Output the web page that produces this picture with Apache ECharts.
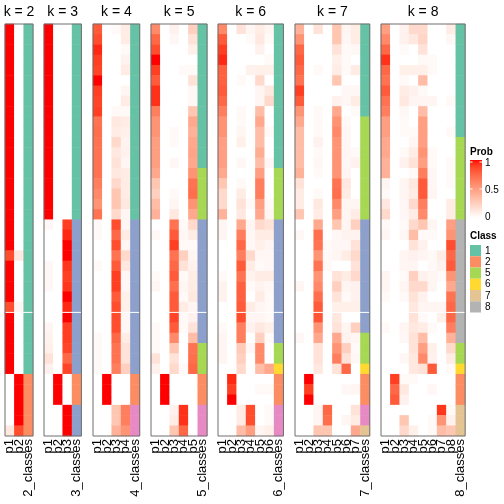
<!DOCTYPE html>
<html><head><meta charset="utf-8">
<script src="https://cdn.jsdelivr.net/npm/echarts@6/dist/echarts.min.js"></script>
<style>html,body{margin:0;padding:0;background:#fff}#c{width:504px;height:504px}</style>
</head><body><div id="c"></div>
<script>
// ---------------- data ----------------
const ks = [2, 3, 4, 5, 6, 7, 8];
const sepRow = 28;               // row slice separator (white line) before this row
const rowCats = ['r01','r02','r03','r04','r05','r06','r07','r08','r09','r10','r11','r12','r13','r14','r15','r16','r17','r18','r19','r20','r21','r22','r23','r24','r25','r26','r27','r28','r29','r30','r31','r32','r33','r34','r35','r36','r37','r38','r39','r40'];

const class_k2 = [1,1,1,1,1,1,1,1,1,1, 1,1,1,1,1,1,1,1,1,1, 1,1,1,1,1,1,1,1,1,1, 1,1,1,1,2,2,2,2,2,2];
const class_k3 = [1,1,1,1,1,1,1,1,1,1, 1,1,1,1,1,1,1,1,1,3, 3,3,3,3,3,3,3,3,3,3, 3,3,3,3,2,2,2,3,3,3];
const class_k4 = [1,1,1,1,1,1,1,1,1,1, 1,1,1,1,1,1,1,1,1,3, 3,3,3,3,3,3,3,3,3,3, 3,3,3,3,2,2,2,4,4,4];
const class_k5 = [1,1,1,1,1,1,1,1,1,1, 1,1,1,1,5,5,5,5,5,3, 3,3,3,3,3,3,3,3,3,3, 3,5,5,5,2,2,2,4,4,4];
const class_k6 = [1,1,1,1,1,1,1,1,1,1, 1,1,1,1,5,5,5,5,5,3, 3,3,3,3,3,3,3,3,3,3, 3,5,5,6,2,2,2,4,4,4];
const class_k7 = [1,1,1,1,1,1,1,1,1,5, 5,5,5,5,5,5,5,5,5,3, 3,3,3,3,3,3,3,3,3,3, 5,5,5,6,2,2,2,4,4,7];
const class_k8 = [1,1,1,1,1,1,1,1,1,1, 1,5,5,5,5,5,5,5,5,8, 8,8,8,8,8,8,8,8,8,8, 8,5,5,6,2,2,2,7,7,7];

const prob_k2 = [
  [1,1,1,1,1,1,1,1,1,1, 1,1,1,1,1,1,1,1,1,1, 1,1,0.85,1,1,1,1,0.85,1,1, 1,1,1,1,0,0,0,0,0,0.12],
  [0,0,0,0,0,0,0,0,0,0, 0,0,0,0,0,0,0,0,0,0, 0,0,0.12,0,0,0,0,0.05,0,0, 0,0,0,0,1,1,1,1,1,0.85]
];
const prob_k3 = [
  [1,1,1,1,1,1,1,1,1,1, 1,1,1,1,1,1,1,1,1,0.04, 0,0,0,0.04,0.04,0.04,0,0,0,0.05, 0.06,0.08,0.15,0.07,0,0,0,0,0,0],
  [0,0,0,0,0,0,0,0,0,0, 0,0,0,0,0,0,0,0,0,0, 0,0,0,0,0,0,0,0,0,0, 0,0,0,0,1,1,1,0,0,0],
  [0,0,0,0,0,0,0,0,0,0, 0,0,0,0,0,0,0,0,0,0.9, 0.95,1,1,0.92,0.9,0.92,1,0.95,1,0.9, 0.9,0.88,0.75,0.88,0,0,0,1,1,1]
];
const prob_k4 = [
  [0.8,0.85,0.95,0.9,0.88,1,0.9,0.88,0.9,0.7, 0.72,0.7,0.7,0.7,0.7,0.65,0.6,0.55,0.7,0.03, 0.03,0,0,0.03,0,0,0,0,0,0, 0.03,0.03,0.03,0.03,0,0,0,0,0,0],
  [0,0,0,0,0,0,0,0,0,0, 0,0,0,0,0,0,0,0,0,0, 0,0,0,0,0,0,0,0,0,0, 0,0,0,0,1,1,1,0,0,0],
  [0.03,0,0,0,0,0,0,0,0.03,0.12, 0.1,0.2,0.12,0.15,0.12,0.2,0.3,0.3,0.2,0.85, 0.75,0.85,0.7,0.8,0.9,0.9,0.8,0.85,0.85,0.85, 0.75,0.7,0.7,0.65,0,0,0,0.3,0.3,0.4],
  [0.1,0.1,0.03,0.06,0.1,0,0.05,0.1,0.03,0.1, 0.08,0.06,0.07,0.05,0.1,0.1,0.1,0.12,0.05,0.05, 0.1,0.05,0.2,0.12,0.04,0.04,0.08,0.08,0.04,0.04, 0.1,0.15,0.15,0.25,0,0,0,0.65,0.65,0.55]
];
const prob_k5 = [
  [0.6,0.75,0.85,1,0.9,0.8,0.93,0.93,0.65,0.55, 0.55,0.5,0.5,0.5,0.45,0.3,0.25,0.35,0.4,0, 0.04,0,0,0,0.03,0.05,0,0,0,0.03, 0.03,0.03,0.15,0.07,0,0,0,0,0,0],
  [0,0,0,0,0,0,0,0,0,0, 0,0,0,0,0,0,0,0,0,0, 0,0,0,0,0,0,0,0,0,0, 0,0,0,0,1,1,1,0,0,0],
  [0.07,0.04,0,0,0,0,0,0,0,0, 0.03,0.03,0,0.04,0,0,0.03,0.05,0.12,0.7, 0.8,0.9,0.7,0.75,0.8,0.72,0.8,0.8,0.88,0.8, 0.6,0.3,0.15,0.2,0,0,0,0.07,0.1,0.3],
  [0,0,0,0,0.03,0,0,0,0,0, 0,0,0,0,0,0,0,0,0,0.03, 0.04,0.03,0.25,0.15,0.03,0.05,0.03,0.1,0.03,0.03, 0,0,0,0.03,0,0,0,0.93,0.93,0.75],
  [0.25,0.15,0.08,0,0.03,0.15,0.04,0.04,0.3,0.45, 0.4,0.45,0.47,0.45,0.55,0.7,0.72,0.55,0.45,0.2, 0.1,0.03,0.05,0.07,0.1,0.1,0.12,0.05,0.07,0.15, 0.35,0.7,0.72,0.75,0,0,0,0,0,0]
];
const prob_k6 = [
  [0.6,0.8,0.9,0.95,0.78,0.78,0.8,0.75,0.65,0.55, 0.55,0.5,0.5,0.5,0.45,0.3,0.2,0.2,0.4,0.05, 0.05,0,0,0,0.03,0.06,0.06,0,0,0.03, 0.05,0.05,0.05,0,0,0,0,0,0,0],
  [0,0,0,0,0,0,0,0,0,0, 0,0,0,0,0,0,0,0,0,0, 0,0,0,0,0,0,0,0,0,0, 0,0,0,0,0.95,0.9,1,0,0,0],
  [0.15,0,0,0,0,0.03,0,0,0.03,0.03, 0.05,0.08,0,0.04,0,0.03,0.1,0.15,0.12,0.45, 0.65,0.75,0.65,0.8,0.7,0.78,0.78,0.8,0.85,0.65, 0.65,0.28,0.25,0.2,0,0,0,0.1,0.1,0.35],
  [0.05,0.03,0,0,0.07,0,0,0,0,0, 0,0,0,0,0,0,0,0.03,0,0.05, 0.04,0.04,0.2,0.1,0.06,0.03,0,0.1,0.05,0.07, 0,0.04,0,0,0,0,0,0.85,0.85,0.5],
  [0.1,0.12,0.07,0,0.08,0.2,0.05,0.05,0.35,0.45, 0.35,0.35,0.42,0.35,0.5,0.65,0.65,0.5,0.45,0.2, 0.1,0.08,0.04,0.03,0.1,0.06,0.1,0.05,0.05,0.12, 0.25,0.6,0.6,0.35,0,0.03,0,0,0,0.05],
  [0.05,0.03,0,0.03,0.08,0,0.12,0.2,0,0, 0.03,0,0,0.04,0,0,0,0.03,0.05,0.15, 0.1,0.05,0.04,0.04,0.1,0.04,0.03,0.03,0.03,0.08, 0.03,0,0,0.45,0,0.03,0,0.03,0.03,0.08]
];
const prob_k7 = [
  [0.4,0.55,0.75,0.8,0.75,0.7,0.9,0.8,0.55,0.45, 0.35,0.35,0.35,0.35,0.4,0.15,0.1,0.1,0.3,0, 0.04,0,0,0,0,0.05,0,0,0,0, 0.04,0,0,0,0,0,0,0,0,0],
  [0,0,0,0,0,0,0,0,0,0, 0,0,0,0,0,0,0,0,0,0, 0,0,0,0,0,0,0,0,0,0, 0,0,0,0,1,0.9,1,0,0,0],
  [0.15,0,0,0,0.03,0,0,0,0.03,0.03, 0.03,0.07,0.03,0.04,0.03,0,0.03,0.12,0.1,0.45, 0.72,0.7,0.55,0.7,0.55,0.6,0.72,0.8,0.82,0.55, 0.45,0.15,0.15,0.12,0,0,0,0.05,0.05,0.3],
  [0,0,0,0,0,0,0,0,0,0, 0,0,0,0,0,0,0,0,0,0, 0,0.03,0.03,0.03,0,0,0,0,0,0, 0,0,0,0,0,0,0,0.75,0.72,0.3],
  [0.3,0.3,0.15,0.08,0.1,0.3,0,0.07,0.45,0.55, 0.6,0.55,0.55,0.55,0.55,0.7,0.72,0.6,0.5,0.3, 0.04,0.04,0.05,0,0.15,0.25,0.15,0.08,0.12,0.15, 0.45,0.55,0.65,0.15,0,0,0,0,0,0],
  [0.05,0.04,0.03,0.03,0.03,0,0.04,0.04,0,0.03, 0.04,0.04,0.05,0.04,0.05,0.12,0.1,0.05,0.05,0.05, 0.06,0.04,0.1,0,0.1,0.05,0.03,0.08,0,0.05, 0.06,0.25,0.15,0.75,0,0.04,0,0,0.05,0],
  [0.1,0.1,0.04,0,0.1,0,0.04,0.1,0.03,0, 0,0,0.03,0.07,0,0,0,0.05,0.1,0.25, 0.06,0.15,0.2,0.15,0.2,0.07,0.07,0.08,0,0.25, 0.05,0.03,0.04,0,0,0.05,0,0.15,0.1,0.45]
];
const prob_k8 = [
  [0.5,0.6,0.75,0.93,0.75,0.7,0.8,0.7,0.65,0.5, 0.5,0.45,0.45,0.4,0.4,0.05,0.03,0.12,0.2,0.03, 0.05,0,0,0,0.05,0.05,0.03,0,0,0.03, 0,0,0,0,0,0,0,0,0,0],
  [0,0,0,0,0,0,0,0,0,0, 0,0,0,0,0,0,0,0,0,0, 0,0,0,0,0,0,0,0,0,0, 0,0,0,0,0.9,0.75,0.8,0,0,0],
  [0.07,0.07,0.03,0,0.08,0.03,0.1,0.12,0.04,0.03, 0.03,0,0.03,0.07,0,0.05,0.05,0.04,0.04,0.03, 0.04,0,0.05,0.05,0.03,0.05,0.03,0,0,0.05, 0.04,0,0.04,0,0.03,0.12,0.07,0,0.3,0.2],
  [0.2,0.12,0,0,0.08,0,0.07,0.05,0,0, 0.03,0.05,0.1,0.15,0.03,0.12,0.1,0.2,0.1,0.2, 0.35,0.15,0.07,0.05,0.25,0.2,0.15,0.12,0.15,0.12, 0.15,0.15,0.12,0.12,0.03,0,0,0,0,0.08],
  [0.2,0.22,0.15,0.03,0.08,0.35,0.03,0.05,0.35,0.5, 0.5,0.5,0.55,0.5,0.65,0.8,0.8,0.65,0.6,0.3, 0.03,0.07,0.05,0,0.07,0.2,0.07,0.05,0.03,0.1, 0.35,0.5,0.6,0.15,0,0,0,0,0,0],
  [0,0,0,0.03,0.03,0,0,0.05,0,0, 0,0,0.03,0.03,0.04,0.04,0.05,0,0,0.05, 0.03,0,0.03,0.03,0.05,0.05,0,0.05,0,0.03, 0,0.08,0.07,0.8,0,0.04,0,0,0.03,0.03],
  [0,0,0,0,0,0,0,0,0,0, 0,0,0,0,0,0,0,0,0,0, 0,0,0.1,0.07,0.03,0,0,0.05,0.08,0, 0,0,0,0,0,0,0,0.92,0.55,0.35],
  [0.1,0.04,0,0,0,0,0,0.03,0,0, 0.03,0,0,0.03,0.03,0.03,0,0.1,0.1,0.5, 0.55,0.85,0.75,0.8,0.55,0.45,0.7,0.75,0.75,0.65, 0.4,0.2,0.1,0.03,0,0,0,0.03,0.07,0.3]
];

const probLegendTicks = ['0', '0.5', '1'];
const classLegend = ['1', '2', '5', '6', '7', '8'];

// ---------------- styles / layout ----------------
const classColors = {1:'#66C2A5', 2:'#FC8D62', 3:'#8DA0CB', 4:'#E78AC3', 5:'#A6D854', 6:'#FFD92F', 7:'#E5C494', 8:'#B3B3B3'};
const FONT = 'Liberation Sans, Arial, Helvetica, sans-serif';
const gridLeft = [5, 44, 93, 151, 218, 295, 381];
const colW = 9.35, gridTop = 24, gridH = 412;

const probs = [prob_k2, prob_k3, prob_k4, prob_k5, prob_k6, prob_k7, prob_k8];
const classes = [class_k2, class_k3, class_k4, class_k5, class_k6, class_k7, class_k8];

// LAB interpolation white -> red (like colorRamp2)
function lin(c){c/=255;return c<=0.04045?c/12.92:Math.pow((c+0.055)/1.055,2.4);}
function gam(c){c=c<=0.0031308?12.92*c:1.055*Math.pow(c,1/2.4)-0.055;return Math.round(Math.max(0,Math.min(1,c))*255);}
function toLab(rgb){const [r,g,b]=rgb.map(lin);const X=(0.4124*r+0.3576*g+0.1805*b)/0.95047,Y=0.2126*r+0.7152*g+0.0722*b,Z=(0.0193*r+0.1192*g+0.9505*b)/1.08883;const f=t=>t>0.008856?Math.cbrt(t):7.787*t+16/116;const fx=f(X),fy=f(Y),fz=f(Z);return [116*fy-16,500*(fx-fy),200*(fy-fz)];}
function fromLab(L,a,bb){const fy=(L+16)/116,fx=fy+a/500,fz=fy-bb/200;const fi=t=>t*t*t>0.008856?t*t*t:(t-16/116)/7.787;const X=fi(fx)*0.95047,Y=fi(fy),Z=fi(fz)*1.08883;const r=3.2406*X-1.5372*Y-0.4986*Z,g=-0.9689*X+1.8758*Y+0.0415*Z,b=0.0557*X-0.2040*Y+1.0570*Z;return 'rgb('+gam(r)+','+gam(g)+','+gam(b)+')';}
const labW = toLab([255,255,255]), labR = toLab([255,0,0]);
const stops = [];
for (let i = 0; i <= 20; i++) { const t = i/20; stops.push(fromLab(labW[0]+(labR[0]-labW[0])*t, labW[1]+(labR[1]-labW[1])*t, labW[2]+(labR[2]-labW[2])*t)); }

const grids = [], xAxes = [], yAxes = [], series = [], probSeriesIdx = [];
ks.forEach((k, i) => {
  const xCats = [];
  for (let c = 1; c <= k; c++) xCats.push('p' + c);
  xCats.push(k + '_classes');
  grids.push({left: gridLeft[i], top: gridTop, width: (k+1)*colW, height: gridH, show: true,
    borderColor: '#6e6e6e', borderWidth: 1, backgroundColor: 'transparent', z: 10});
  xAxes.push({type: 'category', gridIndex: i, data: xCats, position: 'bottom',
    axisLine: {show: false}, axisTick: {show: false}, splitLine: {show: false},
    axisLabel: {rotate: 90, interval: 0, fontSize: 13, color: '#000', margin: 3, fontFamily: FONT}});
  yAxes.push({type: 'category', gridIndex: i, data: rowCats, inverse: true, show: false});
  const pd = [];
  probs[i].forEach((col, c) => col.forEach((v, r) => pd.push([c, r, v])));
  probSeriesIdx.push(series.length);
  series.push({type: 'heatmap', xAxisIndex: i, yAxisIndex: i, data: pd, emphasis: {disabled: true}, progressive: 0, silent: true});
  const cd = classes[i].map((cl, r) => ({value: [k, r, cl], itemStyle: {color: classColors[cl]}}));
  series.push({type: 'heatmap', xAxisIndex: i, yAxisIndex: i, data: cd, emphasis: {disabled: true}, progressive: 0, silent: true});
});

const chart = echarts.init(document.getElementById('c'), null, {renderer: 'canvas'});
chart.setOption({
  animation: false,
  backgroundColor: '#fff',
  grid: grids, xAxis: xAxes, yAxis: yAxes, series: series,
  visualMap: {type: 'continuous', show: false, min: 0, max: 1, dimension: 2, seriesIndex: probSeriesIdx, inRange: {color: stops}}
});

// decorations positioned from the grids
const els = [];
ks.forEach((k, i) => {
  const xCats = xAxes[i].data;
  const a = chart.convertToPixel({gridIndex: i}, [xCats[0], rowCats[sepRow-1]]);
  const b = chart.convertToPixel({gridIndex: i}, [xCats[1], rowCats[sepRow]]);
  const e = chart.convertToPixel({gridIndex: i}, [xCats[k], rowCats[0]]);
  const cw = b[0] - a[0];
  const yb = (a[1] + b[1]) / 2;
  els.push({type: 'line', z: 5, shape: {x1: a[0]-cw/2, y1: yb, x2: e[0]+cw/2, y2: yb}, style: {stroke: '#fff', lineWidth: 1}});
  els.push({type: 'text', x: (a[0]-cw/2 + e[0]+cw/2)/2, y: 12, style: {text: 'k = ' + k, fontSize: 14, fontFamily: FONT, fill: '#000', align: 'center', verticalAlign: 'middle'}});
});
// Prob legend
const lgX = 470, barTop = 160, barH = 58, barW = 12;
els.push({type: 'text', x: lgX, y: 152, style: {text: 'Prob', fontSize: 10, fontWeight: 'bold', fontFamily: FONT, fill: '#000', verticalAlign: 'middle'}});
els.push({type: 'rect', shape: {x: lgX, y: barTop, width: barW, height: barH}, style: {fill: new echarts.graphic.LinearGradient(0, 1, 0, 0, stops.map((c, j) => ({offset: j/20, color: c})))}});
probLegendTicks.forEach((t, j) => {
  const y = barTop + barH - 2 - (barH - 4) * (parseFloat(t));
  els.push({type: 'line', shape: {x1: lgX, y1: y, x2: lgX+2.5, y2: y}, style: {stroke: '#fff', lineWidth: 1}});
  els.push({type: 'line', shape: {x1: lgX+barW-2.5, y1: y, x2: lgX+barW, y2: y}, style: {stroke: '#fff', lineWidth: 1}});
  els.push({type: 'text', x: lgX + barW + 3, y: y + 1, style: {text: t, fontSize: 10, fontFamily: FONT, fill: '#000', verticalAlign: 'middle'}});
});
// Class legend
els.push({type: 'text', x: lgX, y: 236, style: {text: 'Class', fontSize: 10, fontWeight: 'bold', fontFamily: FONT, fill: '#000', verticalAlign: 'middle'}});
classLegend.forEach((c, j) => {
  const y = 245 + j * 11.25;
  els.push({type: 'rect', shape: {x: lgX, y: y, width: 11, height: 11.25}, style: {fill: classColors[+c]}});
  els.push({type: 'text', x: lgX + 15, y: y + 5.8, style: {text: c, fontSize: 10, fontFamily: FONT, fill: '#000', verticalAlign: 'middle'}});
});
chart.setOption({graphic: {elements: els}});
</script>
</body></html>
